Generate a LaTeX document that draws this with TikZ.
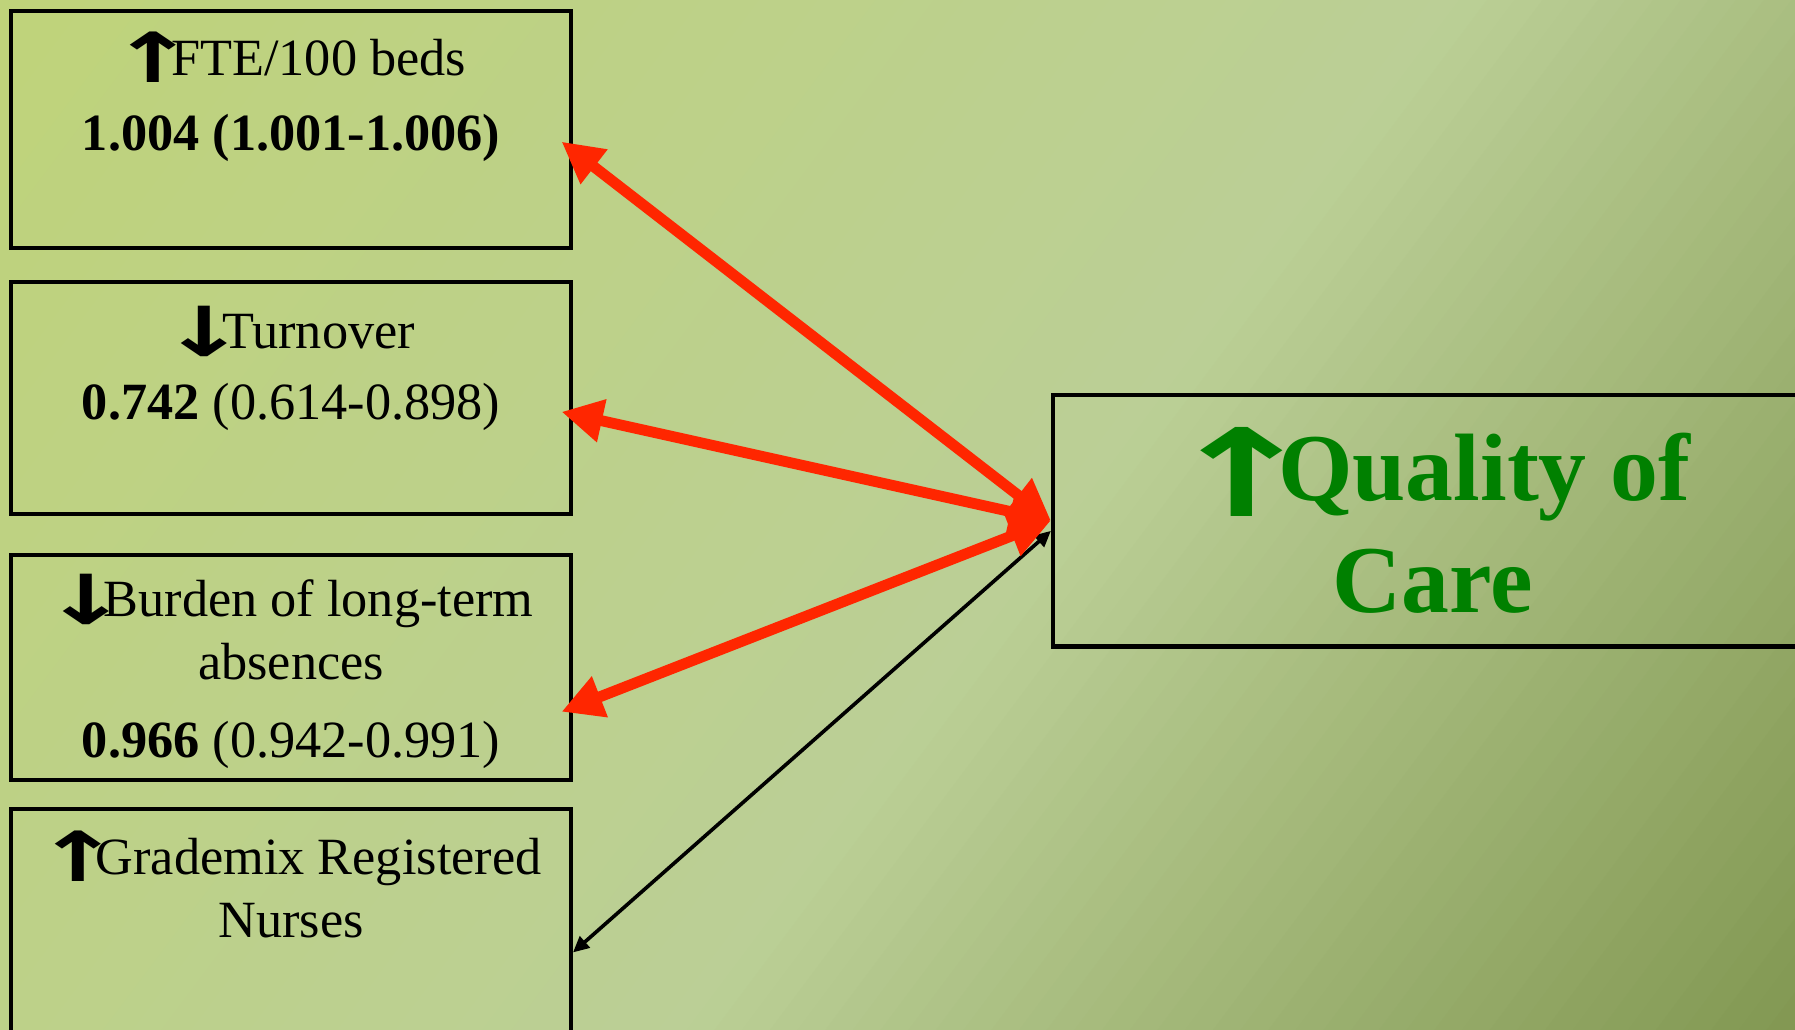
\documentclass[tikz,border=0pt]{standalone}
\usepackage{fontspec}
\usepackage{graphicx}
\setmainfont{Liberation Serif}
\newfontfamily\arrowfont{DejaVu Sans}
\usetikzlibrary{arrows.meta}

\definecolor{bgtop}{RGB}{191,211,122}
\definecolor{bgmid}{RGB}{187,207,150}
\definecolor{bgbot}{RGB}{130,152,82}
\definecolor{linkred}{RGB}{255,38,0}
\definecolor{caregreen}{RGB}{0,128,0}

\newcommand{\goesup}{\kern-0.1em\raisebox{-0.14em}{\scalebox{1.95}[1.32]{\arrowfont\bfseries ↑}}\kern-0.48em}
\newcommand{\goesdown}{\kern-0.1em\raisebox{-0.14em}{\scalebox{1.95}[1.32]{\arrowfont\bfseries ↓}}\kern-0.48em}
\newcommand{\bigup}{\kern-0.1em\raisebox{-0.17em}{\scalebox{1.9}[1.27]{\arrowfont\bfseries ↑}}\kern-0.42em}

\begin{document}
\begin{tikzpicture}[
  factor/.style = {draw, line width=1pt, inner sep=0pt, anchor=north west, font=\fontsize{13}{15.6}\selectfont},
  outcome/.style = {draw, line width=1pt, inner sep=0pt, anchor=north west, text=caregreen, font=\fontsize{23.8}{27.9}\selectfont\bfseries},
  redlink/.style = {linkred, line width=2.7pt, {Triangle[length=0.36cm, width=0.36cm]}-{Triangle[length=0.36cm, width=0.36cm]}},
  blacklink/.style = {black, line width=0.9pt, {Triangle[length=0.14cm, width=0.13cm]}-{Triangle[length=0.14cm, width=0.13cm]}}
]
  \useasboundingbox (0,0) rectangle (15.68,-8.99);
  \clip (0,0) rectangle (15.68,-8.99);
  % background in strips: yellow-green, pale band, olive
  \begin{scope}[rotate=-36.87]
    \foreach \i in {0,...,49} {
      \pgfmathtruncatemacro{\mix}{100-2*\i-1}
      \fill[bgtop!\mix!bgmid] (\i*0.204,-7.4) rectangle (\i*0.204+0.215,9.6);
    }
    \foreach \i in {0,...,39} {
      \pgfmathtruncatemacro{\mix}{100-2.5*\i-1}
      \fill[bgmid!\mix!bgbot] (10.2+\i*0.1935,-7.4) rectangle (10.2+\i*0.1935+0.205,9.6);
    }
  \end{scope}

  % staffing factors
  \node[factor] (fte) at (0.08,-0.08) {\parbox[t][2.07cm][t]{4.89cm}{\centering\rule{0pt}{15.9pt}\goesup FTE/100 beds\\[3.2pt]\textbf{1.004 (1.001-1.006)}}};
  \node[factor] (turnover) at (0.08,-2.45) {\parbox[t][2.02cm][t]{4.89cm}{\centering\rule{0pt}{16.5pt}\goesdown Turnover\\[2pt]\textbf{0.742} (0.614-0.898)}};
  \node[factor] (burden) at (0.08,-4.83) {\parbox[t][1.97cm][t]{4.89cm}{\centering\rule{0pt}{15.4pt}\goesdown Burden of long-term absences\\[3.8pt]\textbf{0.966} (0.942-0.991)}};
  \node[factor] (grademix) at (0.08,-7.05) {\parbox[t][2.5cm][t]{4.89cm}{\centering\rule{0pt}{16.3pt}\goesup Grademix Registered Nurses}};

  % outcome
  \node[outcome] (quality) at (9.18,-3.43) {\parbox[t][2.2cm][t]{6.64cm}{\centering\rule{0pt}{26.2pt}\bigup Quality of\\Care}};

  \draw[blacklink] ([yshift=-0.09cm]quality.west) -- ([yshift=-1.27cm]grademix.north east);
  \draw[redlink] (quality.west) -- ([shift={(-0.1,-0.105)}]fte.east);
  \draw[redlink] (quality.west) -- ([shift={(-0.1,-0.12)}]turnover.east);
  \draw[redlink] (quality.west) -- ([shift={(-0.1,-0.385)}]burden.east);
\end{tikzpicture}
\end{document}
